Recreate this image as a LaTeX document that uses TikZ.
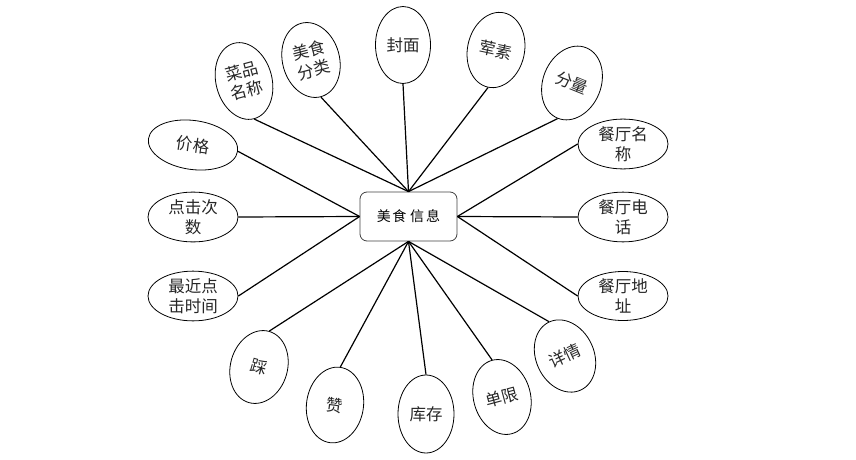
\documentclass[tikz,border=0pt]{standalone}
\usepackage{fontspec}
\newfontfamily\cjk{Noto Sans CJK SC}
\usetikzlibrary{shapes.geometric}
\tikzset{
  attr/.style={draw=black, line width=0.8pt, ellipse, inner sep=0pt, align=center,
    font=\cjk\fontsize{16.5}{20}\selectfont, text=black!85},
  wide/.style={attr, minimum width=90pt, minimum height=49pt},
  tall/.style={attr, minimum width=57pt, minimum height=76pt},
  entity/.style={draw=black!75, line width=0.8pt, rounded corners=7pt, minimum width=97pt,
    minimum height=49pt, inner sep=0pt, font=\cjk\fontsize{14}{16}\selectfont},
  link/.style={line width=1.2pt, draw=black}
}
\begin{document}
\begin{tikzpicture}[x=1pt, y=-1pt]
\useasboundingbox (0,0) rectangle (856,460);
\node[entity] (c) at (408.5,216.5) {美\hspace{1.5pt}食\hspace{4pt}信\hspace{2pt}息};
% left
\node[wide, rotate=-8] (jg) at (193,145) {价格};
\node[wide] (djcs) at (193,217) {点击次\\数};
\node[wide] (zjdj) at (193,296) {最近点\\击时间};
% top
\node[tall, minimum width=56pt, minimum height=78pt, rotate=15] (cpmc) at (244,81) {菜品\\名称};
\node[tall, rotate=15] (msfl) at (311,60) {美食\\分类};
\node[tall, minimum width=55pt, minimum height=77pt] (fm) at (403,45) {封面};
\node[tall, rotate=-12] (hs) at (496,50) {荤素};
\node[tall, minimum width=58pt, rotate=-22] (fl) at (572,83) {分量};
% right
\node[wide] (ctmc) at (623,144) {餐厅名\\称};
\node[wide, minimum height=48pt] (ctdh) at (623,217) {餐厅电\\话};
\node[wide] (ctdz) at (623,296) {餐厅地\\址};
% bottom
\node[tall, minimum width=58pt, minimum height=75pt, rotate=25] (xq) at (565,356) {详情};
\node[tall, rotate=15] (dx) at (502,397) {单限};
\node[tall, minimum width=56pt, minimum height=78pt] (kc) at (426,414) {库存};
\node[tall, rotate=-8] (zan) at (335,405) {赞};
\node[tall, minimum height=74pt, rotate=-16] (cai) at (259,367) {踩};
% connectors
\draw[link] (c.west) -- (jg.east);
\draw[link] (c.west) -- (djcs.east);
\draw[link] (c.west) -- (zjdj.east);
\draw[link] (c.north) -- (cpmc.south);
\draw[link] (c.north) -- (msfl.south);
\draw[link] (c.north) -- (fm.south);
\draw[link] (c.north) -- (hs.south);
\draw[link] (c.north) -- (fl.south);
\draw[link] (c.east) -- (ctmc.west);
\draw[link] (c.east) -- (ctdh.west);
\draw[link] (c.east) -- (ctdz.west);
\draw[link] (c.south) -- (xq.north);
\draw[link] (c.south) -- (dx.north);
\draw[link] (c.south) -- (kc.north);
\draw[link] (c.south) -- (zan.north);
\draw[link] (c.south) -- (cai.north);
\end{tikzpicture}
\end{document}
